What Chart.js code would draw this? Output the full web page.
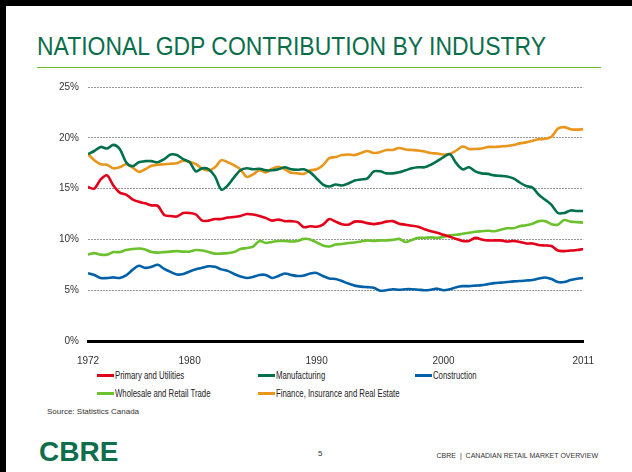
<!DOCTYPE html>
<html>
<head>
<meta charset="utf-8">
<script src="https://cdn.jsdelivr.net/npm/chart.js@4"></script>
<style>
  body { margin: 0; background: #fff; }
  #page { position: relative; width: 632px; height: 472px; overflow: hidden; background: #fff; }
  #frame { position: absolute; left: 0; top: 0; width: 632px; height: 472px; box-sizing: border-box;
           border-left: 6px solid #000; border-top: 6px solid #000; }
  #title { position: absolute; left: 37px; top: 31px; white-space: nowrap; color: #0b6e4b;
           font-family: 'Liberation Sans', Arial, sans-serif; font-size: 26px;
           transform: scaleX(0.883); transform-origin: left top; }
  #rule { position: absolute; left: 37px; top: 67px; width: 564px; height: 1px; background: #6cbe2d; }
  #box { position: absolute; left: 40px; top: 72px; width: 560px; height: 292px; }
  #legend { position: absolute; left: 97px; top: 366px; display: grid;
            grid-template-columns: 161px 157px 150px; grid-auto-rows: 18px;
            font-family: 'Liberation Sans', Arial, sans-serif; font-size: 10.5px; color: #222; }
  #legend div { display: flex; align-items: center; white-space: nowrap; }
  #legend span.sw { display: inline-block; flex-shrink: 0; width: 17px; height: 3px; margin-right: 1px; }
  #legend span.tx { display: inline-block; transform: scaleX(0.74); transform-origin: left center; }
  #source { position: absolute; left: 47px; top: 407px; font-family: 'Liberation Sans', Arial, sans-serif;
            font-size: 8px; color: #333; }
  #logo { position: absolute; left: 39px; top: 436px; font-family: 'Liberation Sans', Arial, sans-serif;
          font-weight: bold; font-size: 28px; color: #0f6e4c; }
  #pnum { position: absolute; left: 318px; top: 449px; font-family: 'Liberation Sans', Arial, sans-serif;
          font-size: 8px; color: #333; }
  #foot { position: absolute; right: 34px; top: 452px; font-family: 'Liberation Sans', Arial, sans-serif;
          font-size: 7px; color: #333; white-space: nowrap; }
</style>
</head>
<body>
<div id="page">
  <div id="frame"></div>
  <div id="title">NATIONAL GDP CONTRIBUTION BY INDUSTRY</div>
  <div id="rule"></div>
  <div id="box"><canvas id="gdp"></canvas></div>
  <div id="legend"></div>
  <div id="source">Source: Statistics Canada</div>
  <div id="logo">CBRE</div>
  <div id="pnum">5</div>
  <div id="foot">CBRE&nbsp; |&nbsp; CANADIAN RETAIL MARKET OVERVIEW</div>
</div>
<script>
  // half-year steps, 1972 to 2011
  var years = [1972, 1972.5, 1973, 1973.5, 1974, 1974.5, 1975, 1975.5, 1976, 1976.5,
    1977, 1977.5, 1978, 1978.5, 1979, 1979.5, 1980, 1980.5, 1981, 1981.5,
    1982, 1982.5, 1983, 1983.5, 1984, 1984.5, 1985, 1985.5, 1986, 1986.5,
    1987, 1987.5, 1988, 1988.5, 1989, 1989.5, 1990, 1990.5, 1991, 1991.5,
    1992, 1992.5, 1993, 1993.5, 1994, 1994.5, 1995, 1995.5, 1996, 1996.5,
    1997, 1997.5, 1998, 1998.5, 1999, 1999.5, 2000, 2000.5, 2001, 2001.5,
    2002, 2002.5, 2003, 2003.5, 2004, 2004.5, 2005, 2005.5, 2006, 2006.5,
    2007, 2007.5, 2008, 2008.5, 2009, 2009.5, 2010, 2010.5, 2011];

  var primary = [15.15, 15.0, 15.9, 16.3, 15.3, 14.6, 14.4, 13.95, 13.7, 13.55,
    13.35, 13.3, 12.4, 12.3, 12.25, 12.6, 12.6, 12.45, 11.85, 11.85,
    12.0, 12.0, 12.15, 12.2, 12.3, 12.5, 12.45, 12.3, 12.1, 11.85,
    11.95, 11.8, 11.8, 11.7, 11.2, 11.3, 11.25, 11.45, 12.0, 11.75,
    11.5, 11.45, 11.75, 11.75, 11.6, 11.5, 11.6, 11.75, 11.8, 11.55,
    11.45, 11.35, 11.25, 11.0, 10.8, 10.65, 10.45, 10.25, 10.05, 9.85,
    9.85, 10.15, 10.0, 9.9, 9.9, 9.9, 9.8, 9.85, 9.75, 9.6,
    9.6, 9.45, 9.4, 9.35, 8.9, 8.85, 8.9, 8.95, 9.05];

  var manufacturing = [18.4, 18.7, 19.1, 18.95, 19.3, 18.9, 17.6, 17.2, 17.6, 17.7,
    17.7, 17.6, 17.9, 18.35, 18.3, 17.9, 17.6, 16.7, 17.0, 16.9,
    16.2, 14.9, 15.3, 16.1, 16.8, 17.0, 16.9, 16.95, 16.8, 16.8,
    16.9, 17.1, 16.9, 16.85, 16.9, 16.6, 16.0, 15.4, 15.2, 15.4,
    15.3, 15.5, 15.8, 15.9, 16.0, 16.7, 16.7, 16.5, 16.5, 16.6,
    16.8, 17.0, 17.1, 17.1, 17.35, 17.7, 18.1, 18.4, 17.5, 16.9,
    17.1, 16.7, 16.5, 16.45, 16.3, 16.25, 16.2, 16.0, 15.6, 15.25,
    15.1, 14.4, 13.9, 13.4, 12.6, 12.6, 12.85, 12.8, 12.8];

  var construction = [6.68, 6.5, 6.2, 6.2, 6.26, 6.2, 6.45, 7.0, 7.4, 7.2,
    7.3, 7.5, 7.1, 6.8, 6.55, 6.6, 6.85, 7.05, 7.2, 7.35,
    7.3, 7.05, 6.9, 6.6, 6.35, 6.2, 6.3, 6.5, 6.5, 6.2,
    6.4, 6.65, 6.5, 6.4, 6.45, 6.65, 6.7, 6.4, 6.15, 6.1,
    5.9, 5.65, 5.45, 5.35, 5.3, 5.25, 4.95, 5.0, 5.1, 5.05,
    5.1, 5.1, 5.05, 5.0, 5.05, 5.15, 5.0, 5.1, 5.3, 5.4,
    5.4, 5.45, 5.5, 5.6, 5.7, 5.75, 5.8, 5.87, 5.9, 5.95,
    6.0, 6.15, 6.25, 6.1, 5.8, 5.8, 6.0, 6.12, 6.2];

  var wholesale = [8.5, 8.65, 8.5, 8.5, 8.75, 8.75, 8.95, 9.05, 9.1, 9.0,
    8.75, 8.7, 8.75, 8.8, 8.85, 8.8, 8.8, 8.95, 8.9, 8.75,
    8.6, 8.6, 8.65, 8.75, 9.05, 9.15, 9.3, 9.85, 9.65, 9.75,
    9.85, 9.85, 9.8, 9.85, 10.05, 10.0, 9.7, 9.4, 9.3, 9.5,
    9.55, 9.65, 9.7, 9.8, 9.9, 9.85, 9.9, 9.9, 9.95, 10.05,
    9.75, 9.95, 10.15, 10.15, 10.2, 10.15, 10.25, 10.4, 10.45, 10.55,
    10.65, 10.75, 10.8, 10.85, 10.8, 10.95, 11.1, 11.1, 11.3, 11.4,
    11.55, 11.8, 11.8, 11.5, 11.45, 11.9, 11.75, 11.7, 11.65];

  var finance = [18.4, 17.8, 17.4, 17.35, 17.0, 17.1, 17.4, 17.1, 16.65, 16.9,
    17.25, 17.35, 17.4, 17.45, 17.5, 17.75, 17.65, 17.4, 16.95, 16.8,
    17.1, 17.8, 17.6, 17.3, 16.9, 16.15, 16.4, 16.8, 16.6, 16.95,
    17.15, 16.9, 16.55, 16.5, 16.45, 16.8, 16.9, 17.3, 18.0, 18.1,
    18.3, 18.35, 18.3, 18.5, 18.7, 18.5, 18.6, 18.8, 18.8, 19.0,
    18.85, 18.8, 18.75, 18.65, 18.5, 18.45, 18.35, 18.4, 18.75, 19.15,
    18.9, 18.9, 18.95, 19.1, 19.1, 19.15, 19.2, 19.3, 19.45, 19.55,
    19.7, 19.85, 19.9, 20.1, 20.9, 21.05, 20.85, 20.8, 20.85];

  var yearTicks = [1972, 1980, 1990, 2000, 2011];

  var names = ['Primary and Utilities', 'Manufacturing', 'Construction',
    'Wholesale and Retail Trade', 'Finance, Insurance and Real Estate'];
  var colours = ['#e2001a', '#00704a', '#0060a8', '#6cc12e', '#e8961c'];
  var series = [primary, manufacturing, construction, wholesale, finance];

  var tickFont = { family: "'Liberation Sans', Arial, sans-serif", size: 10 };

  var datasets = series.map(function (vals, i) {
    return {
      label: names[i],
      data: vals.map(function (v, j) { return { x: years[j], y: v }; }),
      borderColor: colours[i],
      backgroundColor: colours[i],
      borderWidth: 2.6,
      pointRadius: 0,
      tension: 0.3,
      fill: false
    };
  });

  var chart = new Chart(document.getElementById('gdp'), {
    type: 'line',
    data: { datasets: datasets },
    options: {
      responsive: true,
      maintainAspectRatio: false,
      animation: false,
      layout: { padding: { top: 10, right: 10, bottom: 0, left: 0 } },
      plugins: { legend: { display: false }, tooltip: { enabled: false } },
      scales: {
        x: {
          type: 'linear',
          min: 1972, max: 2011,
          afterBuildTicks: function (s) { s.ticks = yearTicks.map(function (v) { return { value: v }; }); },
          afterFit: function (s) { s.height = 23; },
          ticks: { color: '#333', font: tickFont, maxRotation: 0, padding: 6,
                   callback: function (v) { return String(v); } },
          grid: { display: false },
          border: { color: '#000', width: 3 }
        },
        y: {
          min: 0, max: 25,
          afterFit: function (s) { s.width = 48; },
          ticks: { stepSize: 5, color: '#333', font: tickFont, padding: 9,
                   callback: function (v) { return v + '%'; } },
          grid: { color: function (c) { return c.tick.value === 0 ? 'rgba(0,0,0,0)' : '#999'; },
                  lineWidth: 1, drawTicks: false },
          border: { display: false, dash: [2, 1] }
        }
      }
    }
  });

  // html legend built from the chart's own datasets
  var legend = document.getElementById('legend');
  chart.data.datasets.forEach(function (d) {
    var item = document.createElement('div');
    item.innerHTML = '<span class="sw" style="background:' + d.borderColor + '"></span>' +
      '<span class="tx">' + d.label + '</span>';
    legend.appendChild(item);
  });
</script>
</body>
</html>
